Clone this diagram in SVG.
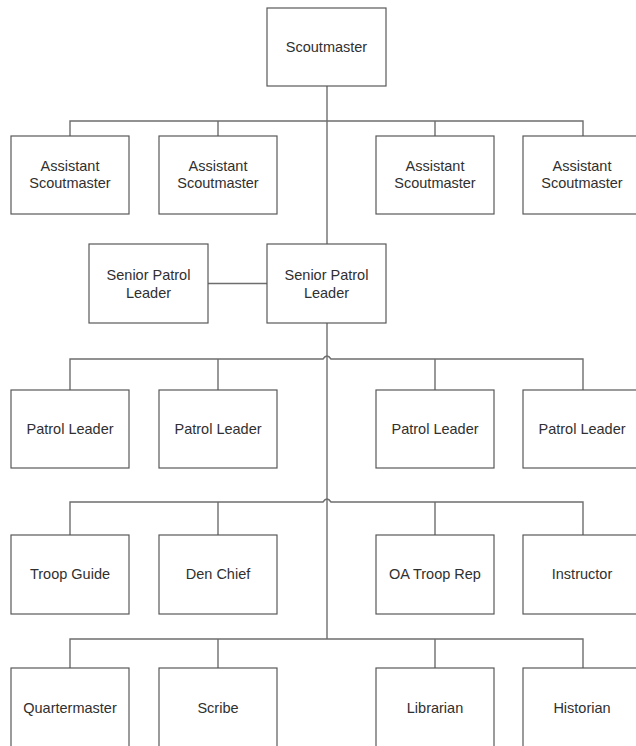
<svg xmlns="http://www.w3.org/2000/svg" width="636" height="746" viewBox="0 0 636 746">
  <style>
    .box { fill: #ffffff; stroke: #595959; stroke-width: 1.2; }
    .wire { fill: none; stroke: #6e6e6e; stroke-width: 1.4; }
    .lbl { font-family: "Liberation Sans", Arial, sans-serif; font-size: 14.5px; fill: #303030; text-anchor: middle; }
  </style>
  <rect width="636" height="746" fill="#ffffff"/>

  <!-- connectors -->
  <g id="connectors">
    <!-- Scoutmaster to Assistant Scoutmasters and on to Senior Patrol Leader -->
    <path class="wire" d="M327 86 V244"/>
    <path class="wire" d="M70 136 V121 H583 V136 M218 121 V136 M435 121 V136"/>
    <!-- Senior Patrol Leader pair -->
    <path class="wire" d="M208 283.5 H267"/>
    <!-- trunk down to the bottom row -->
    <path class="wire" d="M327 323 V639"/>
    <!-- Patrol Leader bus, with a line jump over the trunk -->
    <path class="wire" d="M70 390 V359 H323 Q327 353 331 359 H583 V390 M218 359 V390 M435 359 V390"/>
    <!-- Troop Guide bus, with a line jump over the trunk -->
    <path class="wire" d="M70 535 V502 H323 Q327 496 331 502 H583 V535 M218 502 V535 M435 502 V535"/>
    <!-- bottom bus -->
    <path class="wire" d="M70 668 V639 H583 V668 M218 639 V668 M435 639 V668"/>
  </g>

  <g id="scoutmaster">
    <rect class="box" x="267" y="8" width="119" height="78"/>
    <text class="lbl" x="326.5" y="52">Scoutmaster</text>
  </g>

  <g id="asm-1">
    <rect class="box" x="11" y="136" width="118" height="78"/>
    <text class="lbl" x="70" y="171">Assistant</text>
    <text class="lbl" x="70" y="188">Scoutmaster</text>
  </g>
  <g id="asm-2">
    <rect class="box" x="159" y="136" width="118" height="78"/>
    <text class="lbl" x="218" y="171">Assistant</text>
    <text class="lbl" x="218" y="188">Scoutmaster</text>
  </g>
  <g id="asm-3">
    <rect class="box" x="376" y="136" width="118" height="78"/>
    <text class="lbl" x="435" y="171">Assistant</text>
    <text class="lbl" x="435" y="188">Scoutmaster</text>
  </g>
  <g id="asm-4">
    <rect class="box" x="523" y="136" width="118" height="78"/>
    <text class="lbl" x="582" y="171">Assistant</text>
    <text class="lbl" x="582" y="188">Scoutmaster</text>
  </g>

  <g id="spl-assistant">
    <rect class="box" x="89" y="244" width="119" height="79"/>
    <text class="lbl" x="148.5" y="280">Senior Patrol</text>
    <text class="lbl" x="148.5" y="298">Leader</text>
  </g>
  <g id="spl">
    <rect class="box" x="267" y="244" width="119" height="79"/>
    <text class="lbl" x="326.5" y="280">Senior Patrol</text>
    <text class="lbl" x="326.5" y="298">Leader</text>
  </g>

  <g id="pl-1">
    <rect class="box" x="11" y="390" width="118" height="78"/>
    <text class="lbl" x="70" y="434">Patrol Leader</text>
  </g>
  <g id="pl-2">
    <rect class="box" x="159" y="390" width="118" height="78"/>
    <text class="lbl" x="218" y="434">Patrol Leader</text>
  </g>
  <g id="pl-3">
    <rect class="box" x="376" y="390" width="118" height="78"/>
    <text class="lbl" x="435" y="434">Patrol Leader</text>
  </g>
  <g id="pl-4">
    <rect class="box" x="523" y="390" width="118" height="78"/>
    <text class="lbl" x="582" y="434">Patrol Leader</text>
  </g>

  <g id="troop-guide">
    <rect class="box" x="11" y="535" width="118" height="79"/>
    <text class="lbl" x="70" y="579">Troop Guide</text>
  </g>
  <g id="den-chief">
    <rect class="box" x="159" y="535" width="118" height="79"/>
    <text class="lbl" x="218" y="579">Den Chief</text>
  </g>
  <g id="oa-troop-rep">
    <rect class="box" x="376" y="535" width="118" height="79"/>
    <text class="lbl" x="435" y="579">OA Troop Rep</text>
  </g>
  <g id="instructor">
    <rect class="box" x="523" y="535" width="118" height="79"/>
    <text class="lbl" x="582" y="579">Instructor</text>
  </g>

  <g id="quartermaster">
    <rect class="box" x="11" y="668" width="118" height="82"/>
    <text class="lbl" x="70" y="713">Quartermaster</text>
  </g>
  <g id="scribe">
    <rect class="box" x="159" y="668" width="118" height="82"/>
    <text class="lbl" x="218" y="713">Scribe</text>
  </g>
  <g id="librarian">
    <rect class="box" x="376" y="668" width="118" height="82"/>
    <text class="lbl" x="435" y="713">Librarian</text>
  </g>
  <g id="historian">
    <rect class="box" x="523" y="668" width="118" height="82"/>
    <text class="lbl" x="582" y="713">Historian</text>
  </g>
</svg>
